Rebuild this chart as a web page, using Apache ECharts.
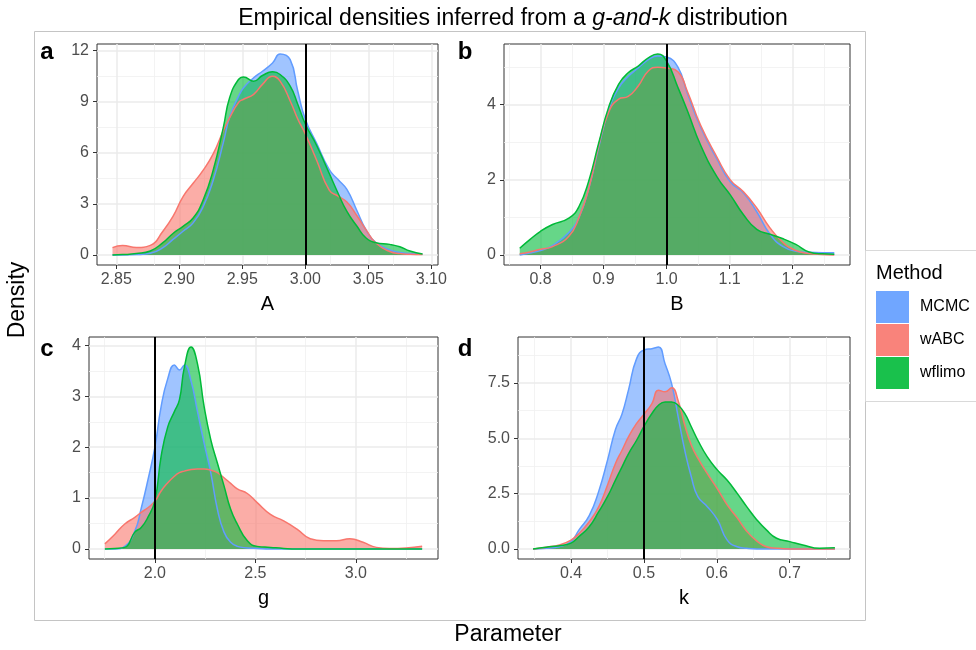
<!DOCTYPE html>
<html><head><meta charset="utf-8">
<script src="https://cdn.jsdelivr.net/npm/echarts@6/dist/echarts.min.js"></script>
<style>html,body{margin:0;padding:0;background:#fff}#c{width:976px;height:650px}</style>
</head><body><div id="c"></div>
<script>
// ---------------- data ----------------
const methods = ['MCMC', 'wABC', 'wflimo'];
const colors = ['#619CFF', '#F8766D', '#00BA38'];

// Panel a : parameter A
const aX = [2.847, 2.855, 2.866, 2.877, 2.887, 2.895, 2.903, 2.911, 2.919, 2.927, 2.935, 2.940, 2.947, 2.951, 2.959, 2.966, 2.974, 2.980, 2.988, 2.994, 3.000, 3.009, 3.019, 3.026, 3.033, 3.041, 3.048, 3.056, 3.067, 3.075, 3.083, 3.093];
const aMCMC = [0, 0, 0.02, 0.1, 0.43, 0.91, 1.39, 1.88, 2.84, 4.4, 6.6, 8.1, 9.3, 9.8, 10.39, 10.77, 11.26, 11.78, 11.45, 9.61, 7.96, 6.54, 5.0, 4.42, 3.84, 2.59, 1.5, 0.72, 0.29, 0.14, 0.08, 0.04];
const aWABC = [0.43, 0.56, 0.43, 0.56, 1.39, 2.26, 3.42, 4.2, 4.97, 5.94, 7.3, 8.05, 8.94, 9.13, 9.42, 10.0, 10.48, 10.19, 9.03, 7.97, 7.1, 5.55, 3.8, 3.45, 3.1, 2.3, 1.5, 0.7, 0.2, 0.08, 0.04, 0.02];
const aWFLIMO = [0, 0.02, 0.08, 0.23, 0.72, 1.26, 1.68, 2.17, 3.23, 5.0, 7.5, 9.23, 10.29, 10.44, 10.19, 10.52, 10.74, 10.58, 9.9, 8.84, 7.68, 6.42, 4.78, 3.62, 2.55, 1.68, 1.01, 0.72, 0.62, 0.48, 0.23, 0.06];

// Panel b : parameter B
const bX = [0.767, 0.783, 0.800, 0.819, 0.845, 0.861, 0.877, 0.892, 0.908, 0.924, 0.939, 0.955, 0.971, 0.986, 1.000, 1.018, 1.033, 1.054, 1.080, 1.101, 1.122, 1.143, 1.164, 1.185, 1.205, 1.226, 1.247, 1.266];
const bMCMC = [0, 0.05, 0.12, 0.25, 0.6, 1.0, 1.8, 2.85, 3.85, 4.45, 4.75, 4.98, 5.2, 5.3, 5.27, 5.0, 4.3, 3.4, 2.55, 1.95, 1.65, 1.15, 0.55, 0.22, 0.1, 0.07, 0.06, 0.06];
const bWABC = [0.03, 0.08, 0.15, 0.22, 0.5, 1.0, 1.8, 2.9, 3.8, 4.15, 4.22, 4.5, 4.9, 5.0, 4.98, 4.88, 4.35, 3.45, 2.6, 2.0, 1.68, 1.25, 0.72, 0.33, 0.12, 0.04, 0.01, 0];
const bWFLIMO = [0.18, 0.41, 0.63, 0.81, 0.98, 1.29, 2.0, 2.96, 3.93, 4.55, 4.85, 5.03, 5.25, 5.35, 5.16, 4.46, 3.84, 2.92, 2.08, 1.6, 1.07, 0.68, 0.55, 0.43, 0.28, 0.08, 0.03, 0.02];

// Panel c : parameter g
const cX = [1.751, 1.801, 1.850, 1.900, 1.932, 1.965, 2.000, 2.031, 2.064, 2.097, 2.122, 2.147, 2.180, 2.212, 2.245, 2.278, 2.311, 2.344, 2.377, 2.410, 2.460, 2.509, 2.575, 2.641, 2.707, 2.773, 2.839, 2.904, 2.970, 3.036, 3.102, 3.168, 3.250, 3.330];
const cMCMC = [0, 0, 0.05, 0.35, 0.8, 1.35, 2.0, 2.8, 3.35, 3.62, 3.52, 3.62, 3.3, 2.7, 2.08, 1.5, 0.78, 0.33, 0.13, 0.05, 0.02, 0.01, 0, 0, 0, 0, 0, 0, 0, 0, 0, 0, 0, 0];
const cWABC = [0.1, 0.29, 0.49, 0.62, 0.72, 0.81, 0.94, 1.14, 1.3, 1.43, 1.5, 1.53, 1.56, 1.57, 1.57, 1.55, 1.5, 1.4, 1.29, 1.18, 1.09, 0.91, 0.68, 0.55, 0.39, 0.2, 0.16, 0.16, 0.2, 0.13, 0.03, 0.01, 0.02, 0.05];
const cWFLIMO = [0, 0.01, 0.03, 0.33, 0.42, 0.62, 0.95, 1.82, 2.4, 2.7, 2.93, 3.58, 3.97, 3.64, 2.8, 2.15, 1.69, 1.24, 0.78, 0.49, 0.16, 0.05, 0.03, 0.01, 0, 0, 0, 0, 0, 0, 0, 0, 0, 0];

// Panel d : parameter k
const dX = [0.348, 0.366, 0.384, 0.400, 0.411, 0.425, 0.438, 0.450, 0.461, 0.470, 0.479, 0.490, 0.501, 0.511, 0.520, 0.529, 0.538, 0.547, 0.556, 0.565, 0.574, 0.587, 0.601, 0.614, 0.628, 0.641, 0.655, 0.668, 0.682, 0.700, 0.718, 0.741, 0.762];
const dMCMC = [0, 0.03, 0.1, 0.33, 0.86, 1.5, 2.6, 4.0, 5.4, 6.1, 7.2, 8.6, 9.0, 9.05, 9.12, 8.37, 7.47, 5.97, 4.46, 3.26, 2.36, 1.91, 1.31, 0.41, 0.1, 0.03, 0, 0, 0, 0, 0, 0, 0];
const dWABC = [0, 0.08, 0.18, 0.4, 0.7, 1.23, 1.9, 2.88, 3.86, 4.46, 5.07, 5.67, 6.12, 6.57, 7.17, 7.1, 7.28, 6.7, 5.6, 4.7, 4.1, 3.4, 2.7, 2.0, 1.4, 0.8, 0.35, 0.1, 0.03, 0, 0, 0, 0];
const dWFLIMO = [0, 0.08, 0.14, 0.26, 0.56, 1.0, 1.68, 2.36, 3.11, 3.71, 4.31, 4.91, 5.59, 6.12, 6.49, 6.64, 6.64, 6.49, 6.12, 5.52, 4.91, 4.16, 3.56, 3.11, 2.51, 1.91, 1.31, 0.86, 0.48, 0.33, 0.18, 0.03, 0.05];

// true parameter values (vertical lines)
const trueValues = [3.0, 1.0, 2.0, 0.5];
const axisTitles = ['A', 'B', 'g', 'k'];
const panelLetters = ['a', 'b', 'c', 'd'];

// tick labels
const aXTicks = [2.85, 2.90, 2.95, 3.00, 3.05, 3.10];
const aYTicks = [0, 3, 6, 9, 12];
const bXTicks = [0.8, 0.9, 1.0, 1.1, 1.2];
const bYTicks = [0, 2, 4];
const cXTicks = [2.0, 2.5, 3.0];
const cYTicks = [0, 1, 2, 3, 4];
const dXTicks = [0.4, 0.5, 0.6, 0.7];
const dYTicks = [0, 2.5, 5.0, 7.5];

const titleText = ['Empirical densities inferred from a ', 'g-and-k', ' distribution'];
const legendTitle = 'Method';
const xLabel = 'Parameter';
const yLabel = 'Density';

// ---------------- chart ----------------
const FONT = "'Liberation Sans', Arial, Helvetica, sans-serif";
const panels = [
  {x: aX, ys: [aMCMC, aWABC, aWFLIMO], xt: aXTicks, yt: aYTicks, xd: 2, yd: 0},
  {x: bX, ys: [bMCMC, bWABC, bWFLIMO], xt: bXTicks, yt: bYTicks, xd: 1, yd: 0},
  {x: cX, ys: [cMCMC, cWABC, cWFLIMO], xt: cXTicks, yt: cYTicks, xd: 1, yd: 0},
  {x: dX, ys: [dMCMC, dWABC, dWFLIMO], xt: dXTicks, yt: dYTicks, xd: 1, yd: 1}
];
const gridBoxes = [
  {left: 97, top: 44, width: 341, height: 221},
  {left: 504, top: 44, width: 346, height: 221},
  {left: 89, top: 337, width: 349, height: 222},
  {left: 518, top: 337, width: 332, height: 222}
];
const letterPos = [[47, 52], [465, 52], [47, 349], [465, 349]];

function expand(lo, hi) { const r = hi - lo; return [lo - 0.05 * r, hi + 0.05 * r]; }
function minors(t, lo, hi) {
  const step = t[1] - t[0], out = [];
  for (let i = -1; i < t.length; i++) {
    const m = t[0] + (i + 0.5) * step;
    if (m > lo && m < hi) out.push(m);
  }
  return out;
}

const grid = [], xAxis = [], yAxis = [], series = [], graphic = [];
panels.forEach((p, i) => {
  const xr = expand(Math.min(...p.x), Math.max(...p.x));
  const ymax = Math.max(...p.ys.map(a => Math.max(...a)));
  const yr = expand(0, ymax);
  grid.push(Object.assign({show: true, borderColor: '#333333', borderWidth: 1, backgroundColor: '#fff', containLabel: false}, gridBoxes[i]));
  xAxis.push({
    gridIndex: i, type: 'value', min: xr[0], max: xr[1],
    name: axisTitles[i], nameLocation: 'middle', nameGap: 29,
    nameTextStyle: {fontSize: 20, color: '#000', fontFamily: FONT},
    axisLine: {show: false, onZero: false},
    axisTick: {show: true, customValues: p.xt, length: 4, lineStyle: {color: '#333', width: 1}},
    axisLabel: {customValues: p.xt, formatter: v => Number(v).toFixed(p.xd), color: '#4D4D4D', fontSize: 16, margin: 7, fontFamily: FONT},
    splitLine: {show: false}
  });
  yAxis.push({
    gridIndex: i, type: 'value', min: yr[0], max: yr[1],
    axisLine: {show: false, onZero: false},
    axisTick: {show: true, customValues: p.yt, length: 4, lineStyle: {color: '#333', width: 1}},
    axisLabel: {customValues: p.yt, formatter: v => Number(v).toFixed(p.yd), color: '#4D4D4D', fontSize: 16, margin: 8, fontFamily: FONT},
    splitLine: {show: false}
  });
  const major = {color: '#EBEBEB', width: 1.5, type: 'solid'};
  const minor = {color: '#F0F0F0', width: 0.8, type: 'solid'};
  const gl = [];
  minors(p.xt, xr[0], xr[1]).forEach(v => gl.push({xAxis: v, lineStyle: minor}));
  minors(p.yt, yr[0], yr[1]).forEach(v => gl.push({yAxis: v, lineStyle: minor}));
  p.xt.forEach(v => gl.push({xAxis: v, lineStyle: major}));
  p.yt.forEach(v => gl.push({yAxis: v, lineStyle: major}));
  series.push({
    type: 'line', xAxisIndex: i, yAxisIndex: i, data: [], silent: true, z: 1,
    markLine: {z: 1, silent: true, animation: false, symbol: ['none', 'none'], label: {show: false}, emphasis: {disabled: true}, data: gl}
  });
  p.ys.forEach((ys, k) => {
    series.push({
      type: 'line', name: methods[k], xAxisIndex: i, yAxisIndex: i, z: 2,
      data: p.x.map((xv, j) => [xv, ys[j]]),
      smooth: 0.5, showSymbol: false, symbol: 'none',
      lineStyle: {color: colors[k], width: 1.5},
      itemStyle: {color: colors[k]},
      areaStyle: {color: colors[k], opacity: 0.6},
      emphasis: {disabled: true}, animation: false
    });
  });
  series.push({
    type: 'line', xAxisIndex: i, yAxisIndex: i, data: [], silent: true, z: 3,
    markLine: {z: 6, silent: true, animation: false, symbol: ['none', 'none'], label: {show: false}, emphasis: {disabled: true},
      lineStyle: {color: '#000', width: 2, type: 'solid'}, data: [{xAxis: trueValues[i]}]}
  });
  graphic.push({type: 'text', x: letterPos[i][0], y: letterPos[i][1], style: {text: panelLetters[i], font: 'bold 24px ' + FONT, fill: '#000', textAlign: 'center', textVerticalAlign: 'middle'}});
});

graphic.push({type: 'rect', shape: {x: 34.5, y: 31.5, width: 831, height: 589}, style: {fill: 'none', stroke: '#C4C4C4', lineWidth: 1}, z: -1});
graphic.push({type: 'rect', shape: {x: 865.5, y: 250.5, width: 115, height: 151}, style: {fill: 'none', stroke: '#D9D9D9', lineWidth: 1}, z: -1});
graphic.push({type: 'text', x: 876, y: 273, style: {text: legendTitle, font: '20px ' + FONT, fill: '#000', textVerticalAlign: 'middle'}});
graphic.push({type: 'text', x: 18, y: 300, rotation: Math.PI / 2, style: {text: yLabel, font: '23px ' + FONT, fill: '#000', textAlign: 'center', textVerticalAlign: 'middle'}});
graphic.push({type: 'text', x: 508, y: 635, style: {text: xLabel, font: '23px ' + FONT, fill: '#000', textAlign: 'center', textVerticalAlign: 'middle'}});

const chart = echarts.init(document.getElementById('c'), null, {renderer: 'canvas', width: 976, height: 650});
chart.setOption({
  animation: false,
  backgroundColor: '#fff',
  title: {
    text: '{n|' + titleText[0] + '}{i|' + titleText[1] + '}{n|' + titleText[2] + '}',
    left: 508, top: 2, textAlign: 'center',
    textStyle: {fontWeight: 'normal', rich: {
      n: {fontSize: 23, fontFamily: FONT, color: '#000', fontWeight: 'normal'},
      i: {fontSize: 23, fontFamily: FONT, color: '#000', fontStyle: 'italic', fontWeight: 'normal'}
    }}
  },
  legend: {
    orient: 'vertical', left: 876, top: 291, padding: 0, itemWidth: 33, itemHeight: 32, itemGap: 1,
    icon: 'rect', selectedMode: false,
    textStyle: {fontSize: 16, color: '#000', fontFamily: FONT, padding: [0, 0, 0, 6]},
    data: methods.map((m, k) => ({name: m, icon: 'rect', itemStyle: {color: colors[k], opacity: 0.9, borderWidth: 0}}))
  },
  grid, xAxis, yAxis, series, graphic
});
</script>
</body></html>
